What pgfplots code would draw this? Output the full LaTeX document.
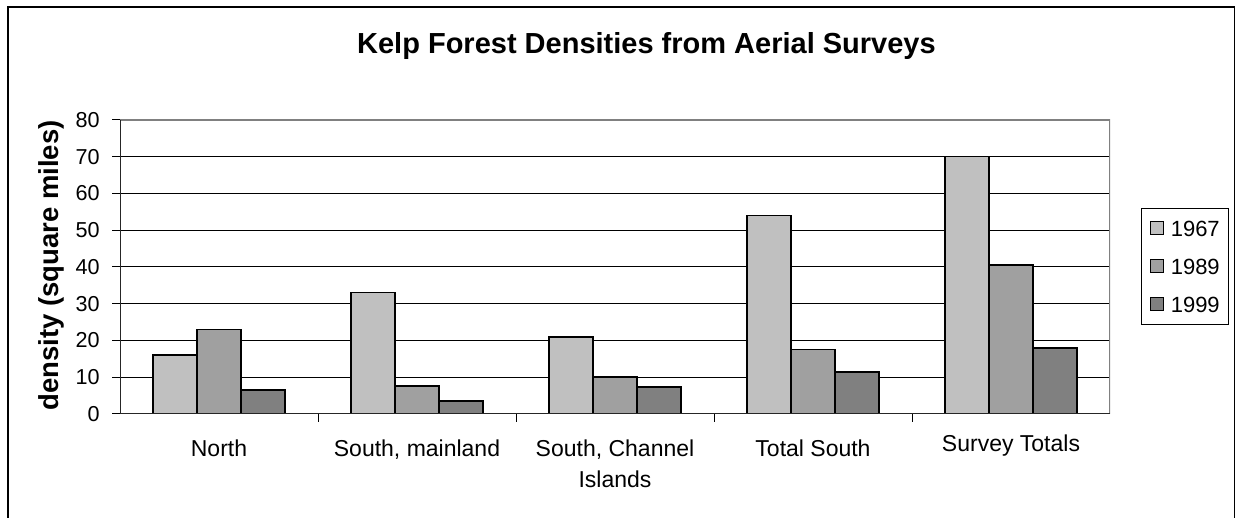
\documentclass[border=0pt]{standalone}
\usepackage{pgfplots}
\usepackage{pgfplotstable}
\pgfplotsset{compat=1.18}
\usepackage{fontspec}
\setmainfont{Liberation Sans}
\definecolor{c67}{HTML}{C0C0C0}
\definecolor{c89}{HTML}{A0A0A0}
\definecolor{c99}{HTML}{808080}
\definecolor{frame}{HTML}{808080}

\pgfplotstableread{
x y67 y89 y99
0.5 16 23 6.5
1.5 33 7.6 3.5
2.5 21 10.1 7.4
3.5 54 17.6 11.4
4.5 70 40.6 18
}\kelp

\begin{document}
\begin{tikzpicture}
\useasboundingbox (0,0) rectangle (618pt,259pt);
\draw[line width=0.6pt] (4pt,-5pt) -- (4pt,255.5pt) -- (617.25pt,255.5pt) -- (617.25pt,-5pt);
\begin{axis}[
  at={(60pt,52pt)}, anchor=south west,
  scale only axis, width=495pt, height=147pt,
  xmin=0, xmax=5, ymin=0, ymax=80,
  ybar=0pt, bar width=22pt,
  xtick={0.5,1.5,2.5,3.5,4.5},
  xticklabels={North, {South, mainland}, {South, Channel\\Islands}, Total South, {\raisebox{2.5pt}[\height][\depth]{Survey Totals}}},
  minor xtick={1,2,3,4},
  ytick={0,10,...,80},
  xtick pos=bottom, ytick pos=left,
  tick align=outside,
  major tick length=3.8pt,
  minor tick length=4pt,
  major x tick style={draw=none},
  tick style={black, line width=0.5pt},
  ymajorgrids, grid style={black, line width=0.5pt},
  axis line style={draw=none},
  /pgf/number format/assume math mode=true,
  yticklabel style={font=\fontsize{10.8}{13}\selectfont, anchor=east, inner sep=0pt, xshift=-6.2pt},
  xticklabel style={font=\fontsize{11.5}{15.35}\selectfont, align=center, anchor=north, inner sep=0pt, yshift=-9.1pt},
  ylabel={density (square miles)},
  ylabel style={at={(axis description cs:-0.0626,0.505)}, anchor=base, font=\bfseries\fontsize{13.75}{16}\selectfont},
  title={Kelp Forest Densities from Aerial Surveys},
  title style={at={(axis description cs:0.5318,1.187)}, anchor=base, font=\bfseries\fontsize{14.5}{17}\selectfont},
  legend style={at={(1.0313,0.7007)}, anchor=north west, draw=black, line width=0.5pt,
    inner xsep=4.5pt, inner ysep=5.9pt, row sep=11pt, column sep=3.35pt,
    font=\fontsize{11}{13}\selectfont,
    nodes={inner sep=0pt, text height=8pt, text depth=0pt}},
  legend cell align=left,
  legend image code/.code={\draw[#1, line width=0.5pt, draw=black] (0pt,-3.2pt) rectangle (6.3pt,3.2pt);},
]
\addplot[fill=c67, draw=black, line width=0.75pt] table[x=x,y=y67]{\kelp};
\addlegendentry{1967}
\addplot[fill=c89, draw=black, line width=0.75pt] table[x=x,y=y89]{\kelp};
\addlegendentry{1989}
\addplot[fill=c99, draw=black, line width=0.75pt] table[x=x,y=y99]{\kelp};
\addlegendentry{1999}
\draw[frame, line width=0.6pt] (rel axis cs:0,1) -- (rel axis cs:1,1) -- (rel axis cs:1,-0.02);
\draw[black!85, line width=0.6pt] (rel axis cs:0,1) -- (rel axis cs:0,0) -- (rel axis cs:1,0);
\end{axis}
\end{tikzpicture}
\end{document}
